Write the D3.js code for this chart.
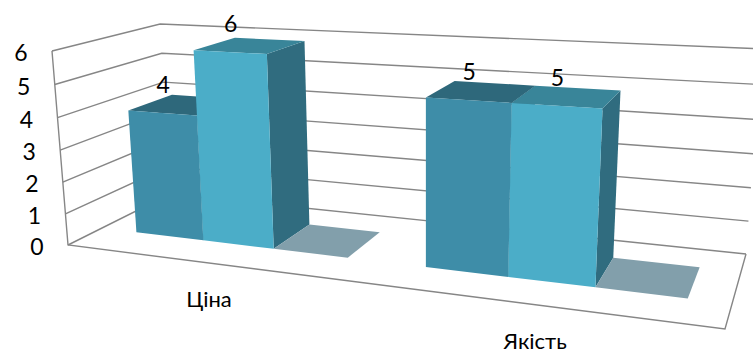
<!DOCTYPE html>
<html><head><meta charset="utf-8">
<script src="https://cdnjs.cloudflare.com/ajax/libs/d3/7.8.5/d3.min.js"></script>
<style>html,body{margin:0;padding:0;background:#fff;overflow:hidden}svg{display:block}text{font-family:"Lato","Open Sans",sans-serif;fill:#000}</style>
</head><body><svg id="c" width="753" height="354"></svg>
<script>
const categories = ["Ціна", "Якість"];
const seriesNames = ["Ряд 1", "Ряд 2", "Ряд 3"];
const series1 = [4, 5];
const series2 = [6, 5];
const series3 = [0, 0];
const allSeries = [series1, series2, series3];
const valueTicks = [0, 1, 2, 3, 4, 5, 6];

const colors = [
  {front:"#3E8DA8", top:"#2E687B", side:"#306C7F"},
  {front:"#4BADC8", top:"#398599", side:"#306C7F"},
  {front:"#829FAB", top:"#829FAB", side:"#829FAB"}
];
const gridColor = "#868686";

// Projective frame of the 3D chart box (unit cube -> screen)
const O=[68,245,1], X=[725,329,1], Y=[170,194,1], B=[746,254,1], Z=[52,51,1], backTopY=24;
function det(a,b,c){return a[0]*(b[1]*c[2]-b[2]*c[1])-a[1]*(b[0]*c[2]-b[2]*c[0])+a[2]*(b[0]*c[1]-b[1]*c[0]);}
const D0=det(X,Y,B);
const aX=det(O,Y,B)/D0, aY=det(X,O,B)/D0;
const aZ=(backTopY*(aY-1)-(aY*Y[1]-O[1]))/(Z[1]-backTopY);
function project(u,v,w){
  const k=1-u-v-w, a=k, b=u*aX, c=v*aY, d=w*aZ, s=a+b+c+d;
  return [(a*O[0]+b*X[0]+c*Y[0]+d*Z[0])/s,(a*O[1]+b*X[1]+c*Y[1]+d*Z[1])/s];
}

const x0=d3.scaleBand().domain(categories).range([0.005,1.005]);
const x1=d3.scaleBand().domain(seriesNames).range([0,x0.bandwidth()]).paddingInner(0).paddingOuter(0.5);
const yS=d3.scaleLinear().domain([0,6]).range([0,1]);
const barH=d3.scaleLinear().domain([0,6]).range([0,0.985]);
const depth=d3.scaleLinear().domain([0,1]).range([0.30,0.73]);

const svg=d3.select("#c");
const line=d3.line();
const poly=pts=>line(pts)+"Z";

// walls
const grid=svg.append("g").attr("fill","none").attr("stroke",gridColor).attr("stroke-width",1.4);
grid.selectAll("path.g").data(valueTicks).join("path").attr("class","g")
  .attr("d",t=>line([project(0,0,yS(t)),project(0,1,yS(t)),project(1,1,yS(t))]));
grid.append("path").attr("d",line([project(0,0,1),project(0,0,0),project(1,0,0),project(1,1,0)]));

// bars
const barsG=svg.append("g");
const labels=[];
categories.forEach((cat,ci)=>{
  seriesNames.forEach((sn,si)=>{
    const val=allSeries[si][ci], u0=x0(cat)+x1(sn), u1=u0+x1.bandwidth();
    const v0=depth(0), v1=depth(1), h=barH(val), col=colors[si];
    const g=barsG.append("g");
    if(val>0){
      g.append("path").attr("fill",col.side).attr("d",poly([project(u1,v0,0),project(u1,v1,0),project(u1,v1,h),project(u1,v0,h)]));
    }
    g.append("path").attr("fill",col.top).attr("d",poly([project(u0,v0,h),project(u1,v0,h),project(u1,v1,h),project(u0,v1,h)]));
    if(val>0){
      g.append("path").attr("fill",col.front).attr("d",poly([project(u0,v0,0),project(u1,v0,0),project(u1,v0,h),project(u0,v0,h)]));
      labels.push({val,p:project((u0+u1)/2,v0,h)});
    }
  });
});

// value labels
svg.append("g").selectAll("text").data(labels).join("text")
  .attr("text-anchor","middle").attr("font-size",23)
  .attr("x",d=>d.p[0]+1).attr("y",d=>d.p[1]-20).text(d=>d.val);

// value axis labels
svg.append("g").selectAll("text").data(valueTicks).join("text")
  .attr("text-anchor","middle").attr("font-size",23)
  .attr("x",t=>project(0,0,yS(t))[0]-31).attr("y",t=>project(0,0,yS(t))[1]+10).text(t=>t);

// category labels
svg.append("g").selectAll("text").data(categories).join("text")
  .attr("text-anchor","middle").attr("font-size",22)
  .attr("x",c=>project(x0(c)+x0.bandwidth()/2,0,0)[0]).attr("y",c=>project(x0(c)+x0.bandwidth()/2,0,0)[1]+44).text(c=>c);
</script></body></html>
